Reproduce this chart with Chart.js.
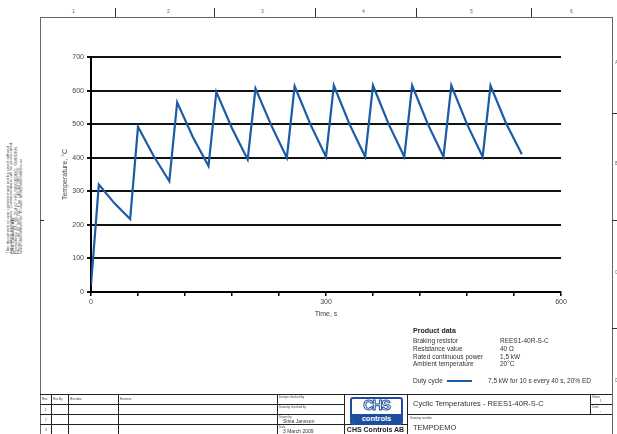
<!DOCTYPE html>
<html>
<head>
<meta charset="utf-8">
<script src="https://cdn.jsdelivr.net/npm/chart.js@4/dist/chart.umd.min.js"></script>
<style>
    body { margin: 0; background: #fff; }
    #page {
        position: relative;
        width: 617px;
        height: 434px;
        overflow: hidden;
        background: #fff;
        font-family: "Liberation Sans", Arial, sans-serif;
        color: #333;
    }
    #page div { position: absolute; white-space: nowrap; }
    .frame { left: 40px; top: 17px; width: 571px; height: 430px; border: 1px solid #666; }
    .vt { width: 1px; background: #333; }
    .ht { height: 1px; background: #333; }
    .num { font-size: 5px; color: #666; top: 8px; }
    .tiny { font-size: 3px; color: #444; }
    .pd { font-size: 6.5px; color: #333; }
    .ln { background: #222; }
    #chart { position: absolute; left: 0; top: 0; }
</style>
</head>
<body>
<div id="page">
    <div class="frame"></div>

    <!-- top ruler -->
    <div class="vt" style="left:115px; top:8px; height:9px"></div>
    <div class="vt" style="left:214px; top:8px; height:9px"></div>
    <div class="vt" style="left:315px; top:8px; height:9px"></div>
    <div class="vt" style="left:416px; top:8px; height:9px"></div>
    <div class="vt" style="left:531px; top:8px; height:9px"></div>
    <div class="num" style="left:72px">1</div>
    <div class="num" style="left:167px">2</div>
    <div class="num" style="left:261px">3</div>
    <div class="num" style="left:362px">4</div>
    <div class="num" style="left:470px">5</div>
    <div class="num" style="left:570px">6</div>

    <!-- side ticks -->
    <div class="ht" style="left:40px; top:220px; width:4px"></div>
    <div class="ht" style="left:612px; top:113px; width:5px"></div>
    <div class="ht" style="left:612px; top:220px; width:5px"></div>
    <div class="ht" style="left:612px; top:328px; width:5px"></div>
    <div class="num" style="left:615px; top:59px">A</div>
    <div class="num" style="left:615px; top:160px">B</div>
    <div class="num" style="left:615px; top:269px">C</div>
    <div class="num" style="left:615px; top:377px">D</div>

    <!-- left legal text -->
    <div style="left:-45px; top:182px; width:120px; height:24px; font-size:4.4px; line-height:4px; color:#555; transform:rotate(-90deg) scaleY(0.68);">
        This document or any content must not be used without<br>
        our written permission. Contraventions will be prosecuted.<br>
        <b>CHS Controls AB</b><br>
        Postadress XX, SE-254 67 HELSINGBORG, SWEDEN<br>
        Phone +46 42 380 700, Fax +46 42 380 720<br>
        www.chscontrols.se, E-mail: info@chscontrols.se
    </div>

    <canvas id="chart" width="617" height="434"></canvas>

    <!-- product data -->
    <div style="left:413px; top:327px; font-size:7px; font-weight:bold; color:#222">Product data</div>
    <div class="pd" style="left:413px; top:337px">Braking resistor</div>
    <div class="pd" style="left:413px; top:345px">Resistance value</div>
    <div class="pd" style="left:413px; top:352.5px">Rated continuous power</div>
    <div class="pd" style="left:413px; top:360px">Ambient temperature</div>
    <div class="pd" style="left:500px; top:337px">REES1-40R-S-C</div>
    <div class="pd" style="left:500px; top:345px">40 Ω</div>
    <div class="pd" style="left:500px; top:352.5px">1,5 kW</div>
    <div class="pd" style="left:500px; top:360px">20°C</div>
    <div class="pd" style="left:413px; top:377px">Duty cycle</div>
    <div style="left:447px; top:380px; width:25px; height:2px; background:#1a5ca8"></div>
    <div class="pd" style="left:488px; top:377px">7,5 kW for 10 s every 40 s, 20% ED</div>

    <!-- title block -->
    <div class="ln" style="left:40px; top:394px; width:572px; height:1px"></div>
    <div class="ln" style="left:40px; top:404px; width:304px; height:1px"></div>
    <div class="ln" style="left:40px; top:414px; width:304px; height:1px"></div>
    <div class="ln" style="left:40px; top:424px; width:304px; height:1px"></div>
    <div class="ln" style="left:344px; top:424px; width:63px; height:1px"></div>
    <div class="ln" style="left:407px; top:414px; width:205px; height:1px"></div>
    <div class="ln" style="left:590px; top:404px; width:22px; height:1px"></div>
    <div class="ln" style="left:51px; top:394px; width:1px; height:40px"></div>
    <div class="ln" style="left:68px; top:394px; width:1px; height:40px"></div>
    <div class="ln" style="left:118px; top:394px; width:1px; height:40px"></div>
    <div class="ln" style="left:277px; top:394px; width:1px; height:40px"></div>
    <div class="ln" style="left:344px; top:394px; width:1px; height:40px"></div>
    <div class="ln" style="left:407px; top:394px; width:1px; height:40px"></div>
    <div class="ln" style="left:590px; top:394px; width:1px; height:20px"></div>

    <div class="tiny" style="left:42px; top:397px">Rev.</div>
    <div class="tiny" style="left:53px; top:397px">Rev.By</div>
    <div class="tiny" style="left:70px; top:397px">Rev.date</div>
    <div class="tiny" style="left:120px; top:397px">Revision</div>
    <div class="tiny" style="left:45px; top:408px">1</div>
    <div class="tiny" style="left:45px; top:418px">2</div>
    <div class="tiny" style="left:45px; top:428px">3</div>
    <div class="tiny" style="left:279px; top:395px">Design checked by</div>
    <div class="tiny" style="left:279px; top:405px">Drawing checked by</div>
    <div class="tiny" style="left:279px; top:415px">Drawn by</div>
    <div style="left:283px; top:418px; font-size:5px; color:#333">Stina Jansson</div>
    <div class="tiny" style="left:279px; top:425px">Date</div>
    <div style="left:283px; top:428px; font-size:5px; color:#333">3 March 2009</div>

    <!-- logo -->
    <div style="left:350px; top:397px; width:49px; height:24px; border:2px solid #1d4f9e; border-radius:3px; overflow:hidden;">
        <div style="left:0; top:-2px; width:49px; text-align:center; font-size:14px; font-weight:bold; color:#fff; -webkit-text-stroke:1px #1d4f9e; letter-spacing:-1px;">CHS</div>
        <div style="left:0; top:15px; width:49px; height:9px; background:#1d4f9e; color:#fff; font-size:7.5px; font-weight:bold; text-align:center; line-height:9px;">controls</div>
    </div>
    <div style="left:344px; top:426px; width:63px; text-align:center; font-size:7px; font-weight:bold; color:#222">CHS Controls AB</div>

    <div style="left:413px; top:399px; font-size:7.5px; color:#333">Cyclic Temperatures - REES1-40R-S-C</div>
    <div class="tiny" style="left:410px; top:416px">Drawing number</div>
    <div style="left:413px; top:423px; font-size:7.5px; color:#333">TEMPDEMO</div>
    <div class="tiny" style="left:592px; top:395px">Sheet</div>
    <div class="tiny" style="left:600px; top:399px">1</div>
    <div class="tiny" style="left:592px; top:405px">Cont.</div>
    <div class="tiny" style="left:600px; top:409px">-</div>
</div>

<script>
// Time (s) and temperature (°C) read from the plotted cycle
const timeS = [0, 10, 30, 50, 60, 80, 100, 110, 130, 150, 160, 180, 200, 210, 230, 250,
    260, 280, 300, 310, 330, 350, 360, 380, 400, 410, 430, 450, 460, 480, 500, 510, 530, 550];
const tempC = [20, 320, 264, 217, 492, 405, 330, 565, 462, 375, 596, 488, 395, 606, 497, 400,
    613, 500, 403, 615, 500, 403, 615, 500, 403, 615, 500, 403, 615, 500, 403, 615, 502, 410];

const xLabels = [0, 300, 600];
const yMin = 0, yMax = 700, yStep = 100;
const xMin = 0, xMax = 600, xStep = 60;

const points = timeS.map((t, i) => ({ x: t, y: tempC[i] }));

const tickFont = { family: '"Liberation Sans", Arial, sans-serif', size: 7 };

new Chart(document.getElementById('chart').getContext('2d'), {
    type: 'line',
    data: {
        datasets: [{
            label: 'Duty cycle',
            data: points,
            borderColor: '#1a5ca8',
            borderWidth: 2.2,
            pointRadius: 0,
            tension: 0,
            fill: false
        }]
    },
    options: {
        responsive: false,
        animation: false,
        events: [],
        layout: {
            padding: { left: 61, right: 56, top: 57, bottom: 116 }
        },
        plugins: {
            legend: { display: false },
            tooltip: { enabled: false }
        },
        scales: {
            x: {
                type: 'linear',
                min: xMin,
                max: xMax,
                afterFit: (s) => { s.height = 26; s.paddingLeft = 0; s.paddingRight = 0; },
                border: { display: true, color: '#000', width: 2 },
                grid: { drawOnChartArea: false, drawTicks: true, tickLength: 4, color: '#000', lineWidth: 1.5 },
                ticks: {
                    stepSize: xStep,
                    autoSkip: false,
                    maxRotation: 0,
                    padding: 2,
                    color: '#444',
                    font: tickFont,
                    callback: (v) => xLabels.includes(v) ? String(v) : ''
                },
                title: { display: true, text: 'Time, s', color: '#444', font: tickFont, padding: 0 }
            },
            y: {
                min: yMin,
                max: yMax,
                afterFit: (s) => { s.width = 30; s.paddingTop = 0; s.paddingBottom = 0; },
                border: { display: true, color: '#000', width: 2 },
                grid: { color: '#111', lineWidth: 2, tickLength: 4 },
                ticks: { stepSize: yStep, padding: 3, color: '#444', font: tickFont },
                title: { display: true, text: 'Temperature, °C', color: '#444', font: tickFont, padding: 0 }
            }
        }
    }
});
</script>
</body>
</html>
